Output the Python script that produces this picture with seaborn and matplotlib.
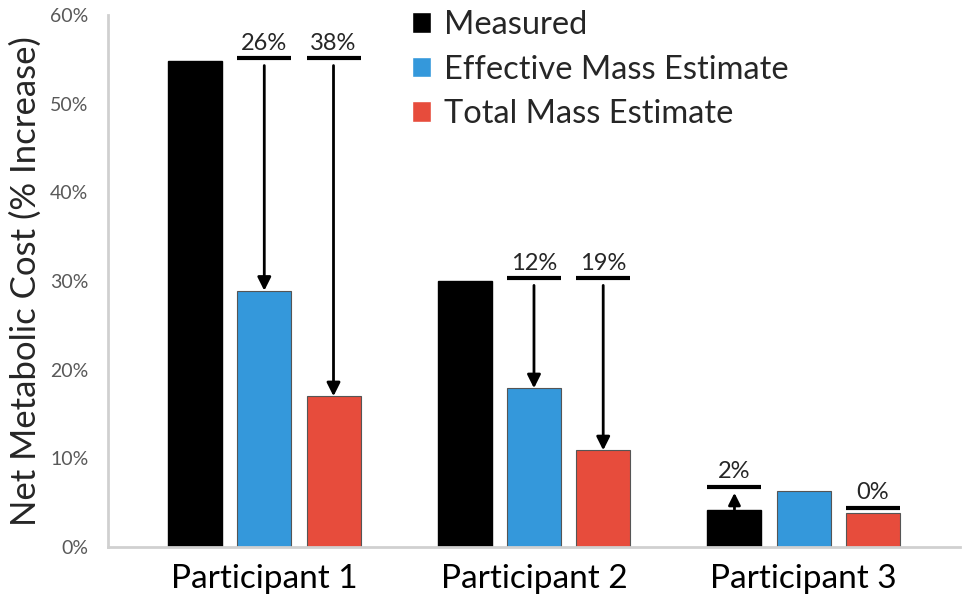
import numpy as np
import pandas as pd
import matplotlib
matplotlib.use("Agg")
import matplotlib.pyplot as plt
import seaborn as sns

# ── data ────────────────────────────────────────────────────────────
participants = ["Participant 1", "Participant 2", "Participant 3"]
series = ["Measured", "Effective Mass Estimate", "Total Mass Estimate"]
measured = [54.8, 30.0, 4.2]
effective = [28.9, 17.9, 6.3]
total = [17.0, 10.9, 3.8]

# annotations: group, bar (series index) it sits over, line level, label, arrow?
ann_group = [0, 0, 1, 1, 2, 2]
ann_bar = [1, 2, 1, 2, 0, 2]
ann_level = [55.1, 55.1, 30.3, 30.3, 6.8, 4.4]
ann_text = ["26%", "38%", "12%", "19%", "2%", "0%"]
ann_arrow = [True, True, True, True, True, False]

colors = {"Measured": "#000000",
          "Effective Mass Estimate": "#3498db",
          "Total Mass Estimate": "#e74c3c"}

df = pd.DataFrame({
    "participant": participants * 3,
    "series": np.repeat(series, 3),
    "value": measured + effective + total,
})

sns.set_style("white")
plt.rcParams["font.family"] = ["Lato", "DejaVu Sans"]

fig = plt.figure(figsize=(9.63, 6.01), dpi=100)
ax = fig.add_axes([0.112, 0.09, 0.885, 0.885])

sns.barplot(data=df, x="participant", y="value", hue="series",
            hue_order=series, palette=colors, width=0.77, gap=0.22,
            ax=ax, errorbar=None, saturation=1)

for h, cont in enumerate(ax.containers):
    for bar in cont:
        if h == 0:
            bar.set_edgecolor("#000000")
        else:
            bar.set_edgecolor("#555555")
            bar.set_linewidth(0.8)

# annotation lines + arrows
for g, b, lvl, txt, arr in zip(ann_group, ann_bar, ann_level, ann_text, ann_arrow):
    bar = ax.containers[b][g]
    x0 = bar.get_x()
    x1 = x0 + bar.get_width()
    xc = x0 + bar.get_width() / 2
    top = bar.get_height()
    ax.plot([x0, x1], [lvl, lvl], color="black", lw=3, solid_capstyle="butt")
    ax.text(xc, lvl + 0.5, txt, ha="center", va="bottom", fontsize=17,
            color="#262626")
    if arr:
        if top < lvl - 1.5 and lvl > 10:
            ax.annotate("", xy=(xc, top), xytext=(xc, lvl - 0.8),
                        arrowprops=dict(arrowstyle="-|>", color="black",
                                        lw=2, mutation_scale=20,
                                        shrinkA=0, shrinkB=0))
        else:
            ax.annotate("", xy=(xc, lvl - 0.7), xytext=(xc, top),
                        arrowprops=dict(arrowstyle="-|>", color="black",
                                        lw=2, mutation_scale=18,
                                        shrinkA=0, shrinkB=0))

ax.set_xlim(-0.58, 2.58)
ax.set_ylim(0, 60)
ax.set_yticks(np.arange(0, 61, 10))
ax.set_yticklabels([f"{v}%" for v in range(0, 61, 10)])
ax.tick_params(axis="y", direction="in", length=5, width=1.5,
               color="#d0d0d0", labelsize=14, labelcolor="#595959", pad=14)
ax.tick_params(axis="x", length=0, labelsize=24, labelcolor="black", pad=12)
ax.set_xlabel("")
ax.set_ylabel("Net Metabolic Cost (% Increase)", fontsize=25, labelpad=6)

sns.despine(ax=ax, top=True, right=True)
for side in ["left", "bottom"]:
    ax.spines[side].set_color("#d0d0d0")
    ax.spines[side].set_linewidth(2)

handles, labels = ax.get_legend_handles_labels()
ax.legend(handles, labels, loc="upper left", bbox_to_anchor=(0.322, 1.065),
          frameon=False, fontsize=23.5, handlelength=0.6, handleheight=0.6,
          handletextpad=0.4, labelspacing=0.45)

plt.savefig("out.png", dpi=100)
plt.close()
